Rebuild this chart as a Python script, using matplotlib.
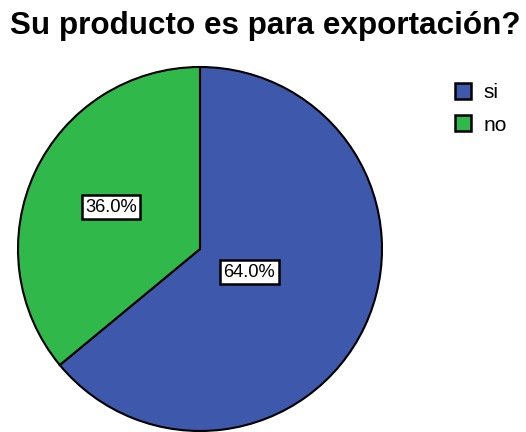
import numpy as np
import matplotlib.pyplot as plt
from matplotlib.patches import Patch

categories = ['si', 'no']
percentages = [64.0, 36.0]
colors = ['#3E58AC', '#30B84A']
label_radius = [0.30, 0.54]


def main():
    plt.rcParams['font.family'] = ['Liberation Sans', 'DejaVu Sans']
    fig = plt.figure(figsize=(5.26, 4.32), dpi=100)
    ax = fig.add_axes([18 / 526, 1 / 432, 364 / 526, 364 / 432])

    wedges, _ = ax.pie(percentages, colors=colors, startangle=90, counterclock=False,
                       radius=1.0, wedgeprops=dict(edgecolor='black', linewidth=1.5))
    ax.set_xlim(-1, 1)
    ax.set_ylim(-1, 1)
    ax.set_aspect('equal')

    # percentage labels boxed inside each wedge
    for w, pct, r in zip(wedges, percentages, label_radius):
        mid = np.deg2rad((w.theta1 + w.theta2) / 2)
        ax.text(r * np.cos(mid), r * np.sin(mid), f'{pct:.1f}%',
                ha='center', va='center', fontsize=13.2,
                bbox=dict(facecolor='white', edgecolor='black', linewidth=1.8, pad=2.5))

    handles = [Patch(facecolor=c, edgecolor='black', linewidth=1.8) for c in colors]
    fig.legend(handles, categories, loc='upper left', bbox_to_anchor=(438 / 526, 1 - 66 / 432),
               frameon=False, fontsize=15, handlelength=0.8, handleheight=0.8,
               handletextpad=0.6, labelspacing=0.65, borderpad=0.3)

    fig.text(265 / 526, 1 - 34 / 432, 'Su producto es para exportación?',
             ha='center', va='baseline', fontsize=22.6, fontweight='bold')

    fig.savefig('out.png', dpi=100)


if __name__ == '__main__':
    main()
